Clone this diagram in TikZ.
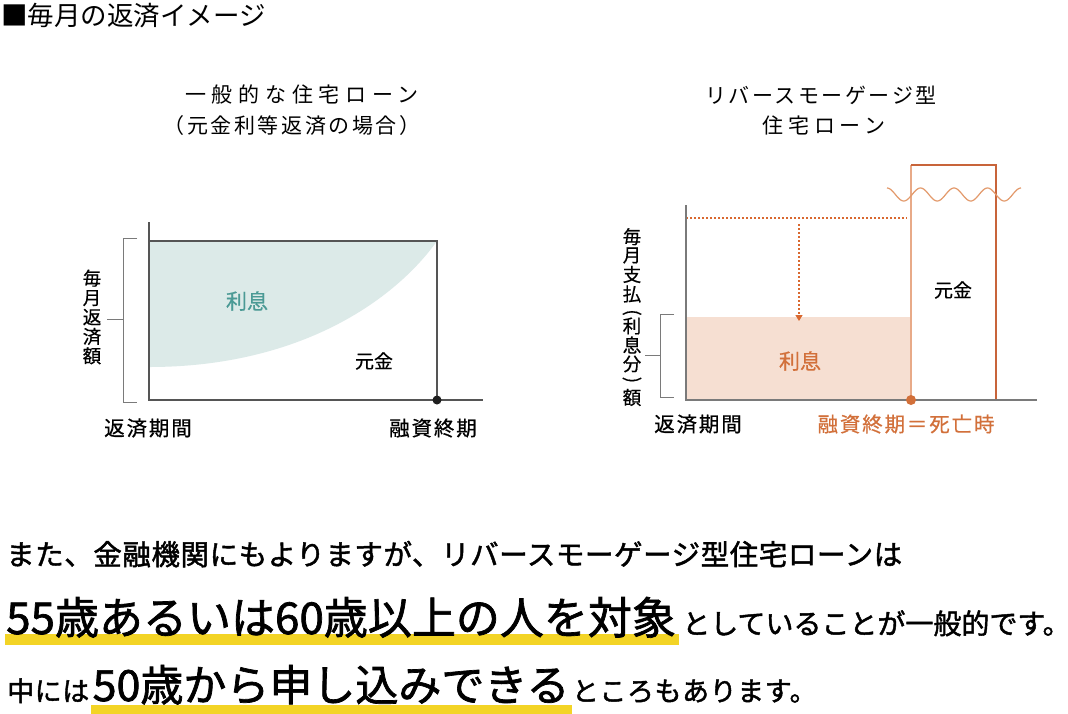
\documentclass[tikz,border=0pt]{standalone}
\usepackage{fontspec}
\newfontfamily\jp{Noto Sans CJK JP}
\newfontfamily\jpt[LetterSpace=12]{Noto Sans CJK JP}
\newfontfamily\jpw[LetterSpace=27]{Noto Sans CJK JP}
\newfontfamily\jpq[LetterSpace=22]{Noto Sans CJK JP}
\newfontfamily\jps[LetterSpace=9,FakeBold=0.6]{Noto Sans CJK JP}
\newfontfamily\jpv[FakeBold=0.6]{Noto Sans CJK JP}
\newfontfamily\jpm[FakeBold=1.6,LetterSpace=2]{Noto Sans CJK JP}
\newfontfamily\jpb[FakeBold=1.6]{Noto Sans CJK JP}
\usetikzlibrary{arrows.meta,backgrounds,calc}
\definecolor{tealfill}{HTML}{DCEAE8}
\definecolor{tealtxt}{HTML}{4B9A95}
\definecolor{orfill}{HTML}{F6DFD2}
\definecolor{ortxt}{HTML}{D2703A}
\definecolor{ordot}{HTML}{D9682F}
\definecolor{orline}{HTML}{C8643A}
\definecolor{orlight}{HTML}{E8AA88}
\definecolor{orwave}{HTML}{E39A6C}
\definecolor{axisdark}{HTML}{555555}
\definecolor{axislight}{HTML}{7A7A7A}
\definecolor{brgray}{HTML}{7A7A7A}
\definecolor{hl}{HTML}{F3D426}
\begin{document}
\begin{tikzpicture}[x=1pt,y=-1pt,
  axisL/.style={draw=axisdark, line width=1.3pt},
  axisR/.style={draw=axislight, line width=1.3pt},
  bracket/.style={draw=brgray, line width=1pt},
  lbl/.style={inner sep=0pt, font=\jps\fontsize{20.5}{24}\selectfont},
  smalllbl/.style={inner sep=0pt, font=\jpv\fontsize{19}{22}\selectfont},
  keylbl/.style={inner sep=0pt, font=\jpv\fontsize{21}{24}\selectfont},
  ttl/.style={inner sep=0pt, font=\jpt\fontsize{21}{25}\selectfont},
  ttlwide/.style={inner sep=0pt, font=\jpw\fontsize{21}{25}\selectfont},
  ttlmid/.style={inner sep=0pt, font=\jpq\fontsize{21}{25}\selectfont},
  vlbl/.style={inner sep=0pt, align=center, font=\jpv\fontsize{18.5}{19.4}\selectfont},
  vch/.style={inner sep=0pt, font=\jpv\fontsize{18.5}{19.4}\selectfont},
  dotline/.style={draw=ordot, line width=1.2pt, dash pattern=on 2pt off 2pt},
  bodytxt/.style={inner sep=0pt, anchor=base west, font=\jpm\fontsize{28.5}{28.5}\selectfont},
  endtxt/.style={inner sep=0pt, anchor=base west, font=\jpm\fontsize{27}{27}\selectfont},
  bigtxt/.style={inner sep=0pt, anchor=base west, font=\jpb\fontsize{44}{44}\selectfont},
]
\begin{scope}[on background layer]
\fill[white] (0,0) rectangle (1068,713);
\end{scope}
\useasboundingbox (0,0) rectangle (1068,713);

% heading
\node[inner sep=0pt, anchor=west, font=\jp\fontsize{26.5}{28}\selectfont] (head) at (1,16) {■毎月の返済イメージ};

% ---------- left chart ----------
\node[ttlwide] (t1a) at (302,94) {一般的な住宅ローン};
\node[ttl] (t1b) at (292,126) {（元金利等返済の場合）};
\coordinate (LA) at (149,222);
\coordinate (LO) at (149,400);
\coordinate (LX) at (483,400);
\coordinate (LTL) at (149,241);
\coordinate (LTR) at (437,241);
\coordinate (LBR) at (437,400);
\coordinate (LC) at (149,367);
\fill[tealfill] (LTL) -- (LTR) .. controls (395,300) and (300,367) .. (LC) -- cycle;
\draw[axisL] (LTL) -- (LTR) -- (LBR);
\draw[axisL] (LA) -- (LO) -- (LX);
\fill[black!88] (LBR) circle[radius=4.5pt];
\coordinate (LB1) at (137,238);
\coordinate (LB2) at (123,238);
\coordinate (LB3) at (123,402);
\coordinate (LB4) at (137,402);
\coordinate (LBM) at (123,319);
\coordinate (LBT) at (107,319);
\draw[bracket] (LB1) -- (LB2) -- (LB3) -- (LB4);
\draw[bracket] (LBT) -- (LBM);
\node[keylbl, text=tealtxt] (li) at (247,301) {利息};
\node[smalllbl] (lg) at (374,361) {元金};
\node[lbl] (lp) at (148,428) {返済期間};
\node[lbl] (le) at (433,428) {融資終期};
\node[vlbl] (lv) at (92,317) {毎\\月\\返\\済\\額};

% ---------- right chart ----------
\node[ttl] (t2a) at (821,95) {リバースモーゲージ型};
\node[ttlmid] (t2b) at (824,125) {住宅ローン};
\coordinate (RA) at (686,205);
\coordinate (RO) at (686,400);
\coordinate (RX) at (1037,400);
\coordinate (RFT) at (686,317);
\coordinate (RD) at (911,400);
\coordinate (RBT) at (911,165);
\coordinate (RBR) at (996,165);
\coordinate (RBB) at (996,400);
\coordinate (DL) at (686,218);
\coordinate (DR) at (907,218);
\coordinate (AT) at (799,224);
\coordinate (AB) at (799,321);
\fill[orfill] (RFT) rectangle (RD);
\draw[dotline] (DL) -- (DR);
\draw[dotline, -{Triangle[width=7pt,length=6pt]}] (AT) -- (AB);
\draw[orlight, line width=2.5pt] (RBT) -- (RD);
\draw[orline, line width=1.2pt] (RBT) -- (RBR) -- (RBB);
\draw[axisR] (RA) -- (RO) -- (RX);
\draw[orwave, line width=1.2pt] plot[domain=0:134, samples=150, smooth] ({887+\x}, {194.5-6.5*cos(\x/33.5*360)});
\fill[ortxt] (RD) circle[radius=5pt];
\coordinate (RB1) at (674,314);
\coordinate (RB2) at (660,314);
\coordinate (RB3) at (660,397);
\coordinate (RB4) at (674,397);
\coordinate (RBM) at (660,355);
\coordinate (RBTk) at (645,355);
\draw[bracket] (RB1) -- (RB2) -- (RB3) -- (RB4);
\draw[bracket] (RBTk) -- (RBM);
\node[smalllbl] (rg) at (953,290) {元金};
\node[keylbl, text=ortxt] (ri) at (800,361) {利息};
\node[lbl] (rp) at (698,424) {返済期間};
\node[lbl, text=ortxt] (re) at (906,424) {融資終期＝死亡時};
% vertical label
\node[vch] (rv1) at (632,236.7) {毎};
\node[vch] (rv2) at (632,255.5) {月};
\node[vch] (rv3) at (632,274.5) {支};
\node[vch] (rv4) at (632,294) {払};
\node[vch, rotate=-90] (rv5) at (632,312.5) {(};
\node[vch] (rv6) at (632,326) {利};
\node[vch] (rv7) at (632,345) {息};
\node[vch] (rv8) at (632,364) {分};
\node[vch, rotate=-90] (rv9) at (632,380) {)};
\node[vch] (rv10) at (632,397.5) {額};

% ---------- bottom text ----------
\node[bodytxt] (l1) at (6,565) {また、金融機関にもよりますが、リバースモーゲージ型住宅ローンは};
\node[bigtxt] (b1) at (6,634) {55歳あるいは60歳以上の人を対象};
\node[inner sep=0pt, anchor=base west, font=\jpb\fontsize{28}{28}\selectfont] (s1) at ([xshift=6pt]b1.base east) {としていることが一般的です。\kern-0.45em};
\node[endtxt] (s2) at (7,701) {中には};
\node[bigtxt, font=\jpb\fontsize{43}{43}\selectfont] (b2) at ([xshift=3pt]s2.base east) {50歳から申し込みできる};
\node[endtxt] (s3) at ([xshift=2pt]b2.base east) {ところもあります。};
\begin{scope}[on background layer]
\fill[hl] ($(b1.base west)+(-1,0)$) rectangle ($(b1.base east)+(3,11)$);
\fill[hl] ($(b2.base west)+(-1,4)$) rectangle ($(b2.base east)+(2,14)$);
\end{scope}
\end{tikzpicture}
\end{document}
